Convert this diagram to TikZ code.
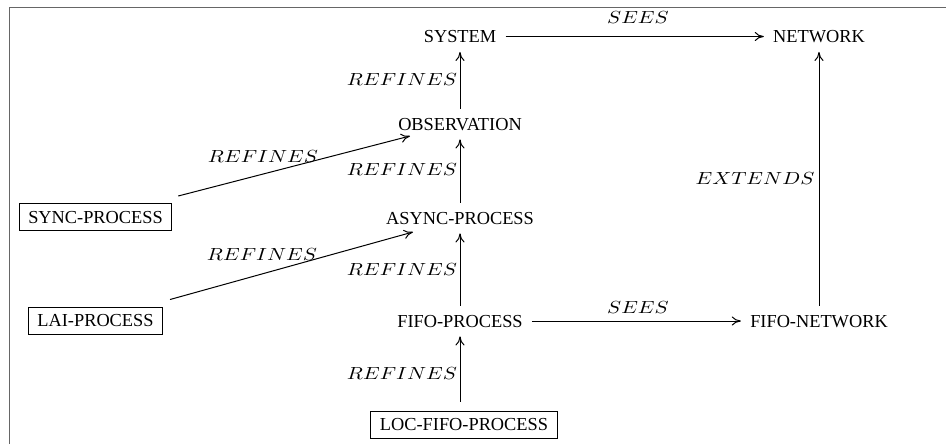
\documentclass[tikz,border=0pt]{standalone}
\usepackage{fontspec}
\usepackage{graphicx}
\setmainfont{Liberation Serif}
\usetikzlibrary{arrows.meta}

% relation names are set in wide math italic
\newcommand\reltag[1]{\scalebox{1.26}[1.05]{$#1$}}

\begin{document}
\begin{tikzpicture}[x=0.6pt,y=-0.6pt,
  module/.style={font=\fontsize{11}{13}\selectfont, inner xsep=5.4pt,
    inner ysep=5.4pt, text height=7.2pt, text depth=0pt},
  framed/.style={module, draw, line width=0.6pt, inner ysep=4.5pt},
  rel/.style={line width=0.6pt, -{To[length=5.5pt,width=5.5pt]}},
  tag/.style={inner sep=0pt}
]
\useasboundingbox (0,0) rectangle (946,444);

% page frame
\draw[line width=1pt, black!60] (9.5,444) -- (9.5,7.5) -- (946,7.5);

% modules
\node[module] (sys)   at (460,36.5)  {SYSTEM};
\node[module] (net)   at (819,36.5)  {NETWORK};
\node[module] (obs)   at (460,124)   {OBSERVATION};
\node[module] (async) at (460,218)   {ASYNC-PROCESS};
\node[module] (fifo)  at (460,321)   {FIFO-PROCESS};
\node[module] (fnet)  at (819,321)   {FIFO-NETWORK};
\node[framed] (loc)   at (464,424.5) {LOC-FIFO-PROCESS};
\node[framed] (sync)  at (95.5,217)  {SYNC-PROCESS};
\node[framed] (lai)   at (95.5,320.5){LAI-PROCESS};

% relations
\draw[rel] (sys) -- (net);
\draw[rel] (obs) -- (sys);
\draw[rel] (async) -- (obs);
\draw[rel] (fifo) -- (async);
\draw[rel, shorten <=5.4pt] (loc.north -| fifo) -- (fifo);
\draw[rel] (fifo) -- (fnet);
\draw[rel] (fnet) -- (net);
\draw[rel] ([shift={(6,-7)}]sync.north east) -- ([shift={(-50,12)}]obs.center);
\draw[rel] ([shift={(7,-7)}]lai.north east) -- ([shift={(-47,14)}]async.center);

% relation labels
\node[tag] (l1) at (638,18)  {\reltag{SEES}};
\node[tag] (l2) at (402,80)  {\reltag{REFINES}};
\node[tag] (l3) at (402,170) {\reltag{REFINES}};
\node[tag] (l4) at (402,270) {\reltag{REFINES}};
\node[tag] (l5) at (402,374) {\reltag{REFINES}};
\node[tag] (l6) at (263,157) {\reltag{REFINES}};
\node[tag] (l7) at (262,255) {\reltag{REFINES}};
\node[tag] (l8) at (638,308) {\reltag{SEES}};
\node[tag] (l9) at (755,179) {\reltag{EXTENDS}};
\end{tikzpicture}
\end{document}
